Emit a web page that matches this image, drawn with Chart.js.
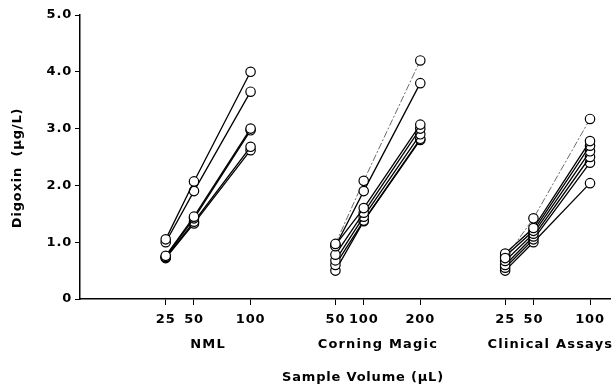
<!DOCTYPE html>
<html>
<head>
<meta charset="utf-8">
<script src="https://cdn.jsdelivr.net/npm/chart.js@4"></script>
<style>
  html, body { margin: 0; padding: 0; background: #fff; }
  #wrap { width: 616px; height: 389px; overflow: hidden; }
</style>
</head>
<body>
<div id="wrap"><canvas id="chart" width="616" height="389"></canvas></div>
<script>
// positions of the three groups on one shared x axis
const nmlPositions = [1, 2, 4];
const corningPositions = [7, 8, 10];
const clinicalPositions = [13, 14, 16];

// tick labels (sample volume, uL)
const tickPositions = [1, 2, 4, 7, 8, 10, 13, 14, 16];
const tickLabels = ["25", "50", "100", "50", "100", "200", "25", "50", "100"];

const groupNames = ["NML", "Corning Magic", "Clinical Assays"];
const groupCenters = [2.5, 8.5, 14.6];

// digoxin (ug/L) per sample
const nmlSeries = [
  [1.05, 2.07, 4.0],
  [1.0, 1.9, 3.65],
  [0.76, 1.45, 3.0],
  [0.74, 1.42, 2.97],
  [0.73, 1.36, 2.68],
  [0.72, 1.33, 2.62]
];
const corningSeries = [
  [0.97, 2.08, 4.2],
  [0.93, 1.9, 3.8],
  [0.95, 1.6, 3.07],
  [0.78, 1.52, 3.0],
  [0.68, 1.45, 2.9],
  [0.6, 1.38, 2.82],
  [0.5, 1.37, 2.8]
];
const clinicalSeries = [
  [0.72, 1.42, 3.17],
  [0.8, 1.25, 2.78],
  [0.75, 1.2, 2.7],
  [0.67, 1.15, 2.6],
  [0.6, 1.1, 2.5],
  [0.55, 1.05, 2.4],
  [0.5, 1.0, 2.04]
];
// series drawn with a faint broken line
const faintSeries = { corning: 0, clinical: 0 };

const FONT = "'DejaVu Sans', Arial, sans-serif";
const SPACING = "0.8px";

function makeDataset(positions, values, faint) {
  return {
    data: values.map((v, i) => ({ x: positions[i], y: v })),
    borderColor: faint ? "#444" : "#000",
    borderWidth: faint ? 0.8 : 1.3,
    borderDash: faint ? [7, 2, 2, 2] : [],
    pointRadius: 4.7,
    pointBorderWidth: 1.2,
    pointBorderColor: "#000",
    pointBackgroundColor: "#fff",
    tension: 0,
    clip: false
  };
}

function buildDatasets() {
  const sets = [];
  nmlSeries.forEach((s) => sets.push(makeDataset(nmlPositions, s, false)));
  corningSeries.forEach((s, i) => sets.push(makeDataset(corningPositions, s, i === faintSeries.corning)));
  clinicalSeries.forEach((s, i) => sets.push(makeDataset(clinicalPositions, s, i === faintSeries.clinical)));
  return sets;
}

// keep letter spacing (canvas resize resets it)
const spacingPlugin = {
  id: "spacing",
  beforeUpdate(chart) { chart.ctx.letterSpacing = SPACING; },
  beforeDraw(chart) { chart.ctx.letterSpacing = SPACING; }
};

// group names and axis titles
const labelsPlugin = {
  id: "labels",
  afterDraw(chart) {
    const ctx = chart.ctx;
    const xs = chart.scales.x;
    ctx.save();
    ctx.fillStyle = "#000";
    ctx.textAlign = "center";
    ctx.textBaseline = "middle";
    ctx.font = "bold 13px " + FONT;
    ctx.letterSpacing = "1.2px";
    groupNames.forEach((name, i) => {
      ctx.fillText(name, xs.getPixelForValue(groupCenters[i]), 345);
    });
    ctx.letterSpacing = SPACING;
    ctx.fillText("Sample Volume (\u00b5L)", 363, 378);
    ctx.translate(18, 168);
    ctx.rotate(-Math.PI / 2);
    ctx.fillText("Digoxin  (\u00b5g/L)", 0, 0);
    ctx.restore();
  }
};

new Chart(document.getElementById("chart"), {
  type: "line",
  data: { datasets: buildDatasets() },
  plugins: [spacingPlugin, labelsPlugin],
  options: {
    responsive: false,
    animation: false,
    layout: { padding: { top: 15, right: 0, bottom: 0, left: 0 } },
    plugins: { legend: { display: false }, tooltip: { enabled: false } },
    scales: {
      x: {
        type: "linear",
        min: -2.03,
        max: 16.71,
        afterBuildTicks(scale) {
          scale.ticks = tickPositions.map((v) => ({ value: v }));
        },
        afterFit(scale) { scale.height = 90; },
        ticks: {
          autoSkip: false,
          maxRotation: 0,
          padding: 7,
          color: "#000",
          font: { family: FONT, size: 13, weight: "bold" },
          callback: (val, i) => tickLabels[i]
        },
        grid: { drawOnChartArea: false, drawTicks: true, tickLength: 6, color: "#000", lineWidth: 1 },
        border: { display: true, color: "#000", width: 1.5 }
      },
      y: {
        min: 0,
        max: 5,
        afterFit(scale) { scale.width = 80; },
        ticks: {
          stepSize: 1,
          padding: 3,
          color: "#000",
          font: { family: FONT, size: 13, weight: "bold" },
          callback: (v) => (v === 0 ? "0" : v.toFixed(1))
        },
        grid: { drawOnChartArea: false, drawTicks: true, tickLength: 5, color: "#000", lineWidth: 1 },
        border: { display: true, color: "#000", width: 1.5 }
      }
    }
  }
});
</script>
</body>
</html>
